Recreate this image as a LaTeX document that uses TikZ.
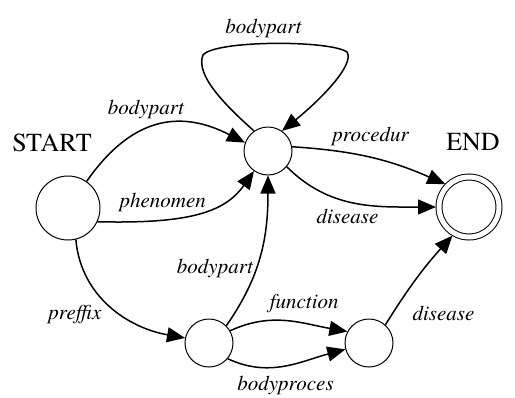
\documentclass[tikz,border=0pt]{standalone}
\usepackage{fontspec}
\setmainfont{TeX Gyre Termes}
\usetikzlibrary{arrows.meta}

\begin{document}
\begin{tikzpicture}[x=1pt, y=1pt,
        state/.style={draw, circle, line width=1pt, minimum size=48pt, inner sep=0pt},
        link/.style={-{Triangle[length=18pt,width=15pt]}, line width=1.5pt},
        lbl/.style={font=\fontsize{21}{24}\selectfont\itshape},
        big/.style={font=\fontsize{26}{30}\selectfont}]
        \useasboundingbox (0,0) rectangle (515,-397);
        \node [state, minimum size=64pt] (1) at (68,-208) {};
        \node [state] (2) at (268,-151) {};
        \node [state, minimum size=60pt, double, double distance=5pt, outer sep=3pt] (3) at (469,-207) {};
        \node [state] (4) at (209,-343) {};
        \node [state] (5) at (369,-343) {};
        \node [big] (S) at (52,-143) {START};
        \node [big] (E) at (473,-142) {END};

        \draw [link] (2.125) .. controls (225,-105) and (195,-75) .. (203,-55)
                .. controls (215,-40) and (330,-40) .. (347,-52) node [lbl, above=2pt, pos=0.45] {bodypart}
                .. controls (355,-65) and (320,-100) .. (2.55);
        \draw [link] (1.55) .. controls (135,-112) and (185,-112) .. (2.160) node [lbl, above=6pt, pos=0.4] {bodypart};
        \draw [link] (1.-25) .. controls (190,-224) and (225,-212) .. (2.235) node [lbl, above=4pt, pos=0.28] {phenomen};
        \draw [link] (2.10) to [bend left=10] node [lbl, above=8pt, pos=0.5] {procedur} (3.136);
        \draw [link] (2.-40) to [out=-45, in=180] node [lbl, below=4pt, pos=0.45] {disease} (3.180);
        \draw [link] (1.-76) to [out=-85, in=170] node [lbl, below left, pos=0.45] {preffix} (4.168);
        \draw [link] (4.45) to [out=55, in=-90] node [lbl, left, xshift=1pt, pos=0.4] {bodypart} (2.-90);
        \draw [link] (4.30) to [out=25, in=170] node [lbl, above=6pt, pos=0.65] {function} (5.152);
        \draw [link] (4.-40) to [out=-25, in=195] node [lbl, below=6pt, pos=0.5] {bodyproces} (5.195);
        \draw [link] (5.48) to [bend left=5] node [lbl, below right=2pt, xshift=5pt, pos=0.25] {disease} (3.240);
      \end{tikzpicture}
\end{document}
